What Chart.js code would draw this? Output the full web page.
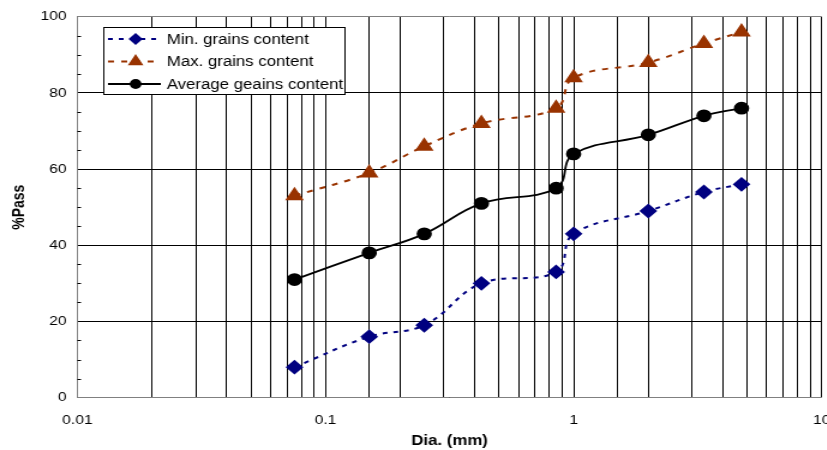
<!DOCTYPE html>
<html>
<head>
<meta charset="utf-8">
<script src="https://cdn.jsdelivr.net/npm/chart.js@4"></script>
<style>
  html, body { margin: 0; padding: 0; background: #fff; overflow: hidden; }
  /* the original picture is stretched sideways, so the whole chart is too */
  #wrap { width: 695px; height: 450px; transform: scaleX(1.2); transform-origin: 0 0; }
</style>
</head>
<body>
<div id="wrap"><canvas id="gradation"></canvas></div>
<script>
// sieve sizes (mm) and % passing
const sieveSizes = [0.075, 0.15, 0.25, 0.425, 0.85, 1.0, 2.0, 3.35, 4.75];
const minPass = [8, 16, 19, 30, 33, 43, 49, 54, 56];
const maxPass = [53, 59, 66, 72, 76, 84, 88, 93, 96];
const avgPass = [31, 38, 43, 51, 55, 64, 69, 74, 76];

const seriesLabels = ['Min. grains content', 'Max. grains content', 'Average geains content'];
const xTickLabels = ['0.01', '0.1', '1', '10'];
const yTickLabels = ['0', '20', '40', '60', '80', '100'];

function points(ys) {
  return sieveSizes.map((x, i) => ({ x: x, y: ys[i] }));
}

const FONT = "'Liberation Sans', Arial, sans-serif";

// legend with line + marker samples, drawn in a box like the original
const boxLegend = {
  id: 'boxLegend',
  afterDraw(chart) {
    const ctx = chart.ctx;
    const left = 86, top = 27, w = 201, h = 67, rowH = 22.5;
    ctx.save();
    ctx.fillStyle = '#fff';
    ctx.fillRect(left, top, w, h);
    ctx.strokeStyle = '#000';
    ctx.lineWidth = 1;
    ctx.strokeRect(left + 0.5, top + 0.5, w, h);
    chart.data.datasets.forEach((ds, i) => {
      const cy = top + 12 + i * rowH;
      ctx.beginPath();
      ctx.setLineDash(ds.borderDash || []);
      ctx.strokeStyle = ds.borderColor;
      ctx.lineWidth = ds.borderWidth;
      ctx.moveTo(left + 4, cy);
      ctx.lineTo(left + 48, cy);
      ctx.stroke();
      ctx.setLineDash([]);
      ctx.fillStyle = ds.backgroundColor;
      ctx.strokeStyle = ds.borderColor;
      Chart.helpers.drawPoint(ctx, {
        pointStyle: ds.pointStyle,
        radius: ds.pointRadius - 1.5,
        borderWidth: 1
      }, left + 27, cy);
      ctx.fillStyle = '#000';
      ctx.font = '14px ' + FONT;
      ctx.textBaseline = 'middle';
      ctx.fillText(ds.label, left + 53, cy + 1);
    });
    ctx.restore();
  }
};

// small inward minor ticks on the value axis
const minorTicks = {
  id: 'minorTicks',
  afterDatasetsDraw(chart) {
    const y = chart.scales.y, ctx = chart.ctx;
    ctx.save();
    ctx.strokeStyle = '#000';
    ctx.lineWidth = 1;
    y.ticks.forEach(t => {
      if (t.value % 20 === 0) return;
      const py = Math.round(y.getPixelForValue(t.value)) + 0.5;
      ctx.beginPath();
      ctx.moveTo(chart.chartArea.left, py);
      ctx.lineTo(chart.chartArea.left + 3, py);
      ctx.stroke();
    });
    ctx.restore();
  }
};

function isDecade(v) {
  const l = Math.log10(v);
  return Math.abs(l - Math.round(l)) < 1e-9;
}

new Chart(document.getElementById('gradation'), {
  type: 'line',
  data: {
    datasets: [{
      label: seriesLabels[0],
      data: points(minPass),
      borderColor: '#000080',
      backgroundColor: '#000080',
      borderWidth: 2,
      borderDash: [4, 5],
      pointStyle: 'rectRot',
      pointRadius: 6,
      tension: 0.4
    }, {
      label: seriesLabels[1],
      data: points(maxPass),
      borderColor: '#993300',
      backgroundColor: '#993300',
      borderWidth: 2,
      borderDash: [5, 6],
      pointStyle: 'triangle',
      pointRadius: 7,
      tension: 0.4
    }, {
      label: seriesLabels[2],
      data: points(avgPass),
      borderColor: '#000',
      backgroundColor: '#000',
      borderWidth: 1.8,
      pointStyle: 'circle',
      pointRadius: 5.5,
      tension: 0.4
    }]
  },
  options: {
    responsive: true,
    maintainAspectRatio: false,
    animation: false,
    layout: { padding: { top: 10, left: 8, right: 0, bottom: 0 } },
    plugins: {
      legend: { display: false },
      tooltip: { enabled: false }
    },
    scales: {
      x: {
        type: 'logarithmic',
        min: 0.01,
        max: 10,
        border: { color: '#808080' },
        grid: {
          color: ctx => (ctx.index === 0 ? '#808080' : '#000'),
          drawTicks: true,
          tickLength: 12,
          tickColor: 'rgba(0,0,0,0)'
        },
        ticks: {
          autoSkip: false,
          maxRotation: 0,
          padding: 3,
          color: '#000',
          font: { family: FONT, size: 13 },
          callback: function (v) {
            if (!isDecade(v)) return '';
            return xTickLabels[Math.round(Math.log10(v)) + 2];
          }
        },
        title: {
          display: true,
          text: 'Dia. (mm)',
          color: '#000',
          font: { family: FONT, size: 14, weight: 'bold' },
          padding: { top: 2, bottom: 0 }
        }
      },
      y: {
        min: 0,
        max: 100,
        border: { color: '#808080' },
        grid: {
          color: ctx => (ctx.tick.value % 20 !== 0 ? 'rgba(0,0,0,0)' :
            (ctx.tick.value === 100 ? '#808080' : '#000')),
          drawTicks: false
        },
        ticks: {
          stepSize: 5,
          autoSkip: false,
          padding: 9,
          color: '#000',
          font: { family: FONT, size: 13 },
          callback: v => (v % 20 === 0 ? yTickLabels[v / 20] : '')
        },
        title: {
          display: true,
          text: '%Pass',
          color: '#000',
          font: { family: FONT, size: 14, weight: 'bold' },
          padding: { top: 0, bottom: 0 }
        }
      }
    }
  },
  plugins: [minorTicks, boxLegend]
});
</script>
</body>
</html>
